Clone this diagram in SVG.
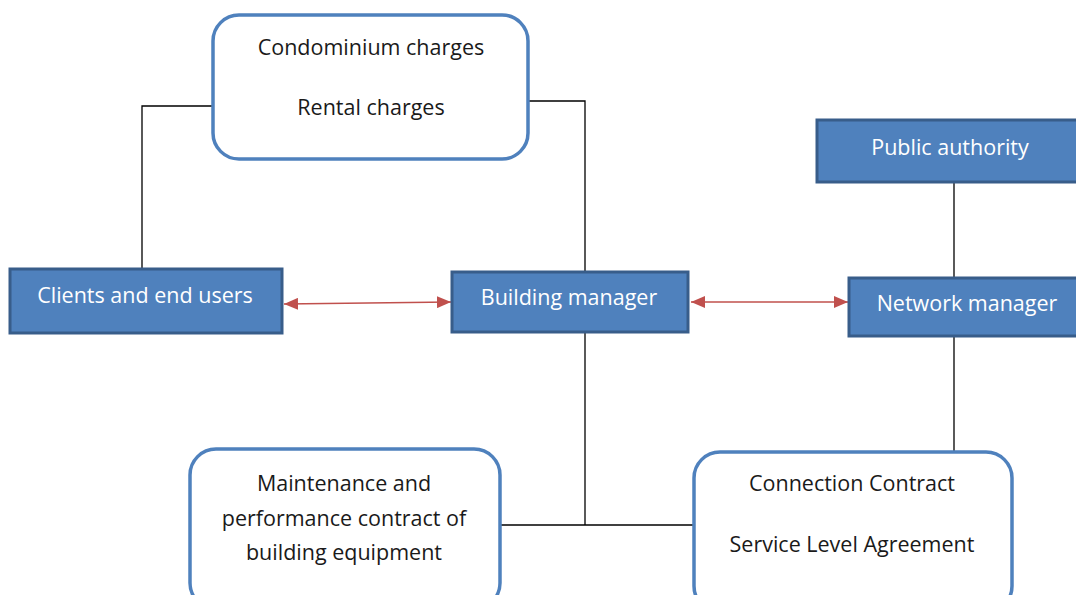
<svg xmlns="http://www.w3.org/2000/svg" width="1076" height="595" viewBox="0 0 1076 595">
  <defs>
    <style>
      .round { fill: #ffffff; stroke: #4F81BD; stroke-width: 3.5; }
      .solid { fill: #4F81BD; stroke: #385D8A; stroke-width: 3; }
      .dark { font-family: "Open Sans", "Liberation Sans", sans-serif; font-size: 21.5px; fill: #1a1a1a; text-anchor: middle; }
      .light { font-family: "Open Sans", "Liberation Sans", sans-serif; font-size: 21.5px; fill: #ffffff; text-anchor: middle; }
      .line { fill: none; stroke: #000000; stroke-width: 1.3; }
      .dbl { fill: none; stroke: #C0504D; stroke-width: 1.6; marker-start: url(#head); marker-end: url(#head); }
    </style>
    <marker id="head" viewBox="0 0 14 12" refX="14" refY="6" markerWidth="14" markerHeight="12" markerUnits="userSpaceOnUse" orient="auto-start-reverse">
      <path d="M0,0 L14,6 L0,12 Z" fill="#C0504D"/>
    </marker>
  </defs>

  <g id="connectors">
    <polyline class="line" points="213,106 142,106 142,269"/>
    <polyline class="line" points="528,101 585,101 585,272"/>
    <line class="line" x1="954" y1="182" x2="954" y2="278"/>
    <line class="line" x1="954" y1="336" x2="954" y2="452"/>
    <line class="line" x1="585" y1="332" x2="585" y2="525"/>
    <line class="line" x1="500" y1="525" x2="694" y2="525"/>
    <line class="dbl" x1="284" y1="304" x2="451" y2="302"/>
    <line class="dbl" x1="691" y1="302" x2="848" y2="302"/>
  </g>

  <g id="charges">
    <rect class="round" x="213" y="15" width="315" height="144" rx="26"/>
    <text class="dark" x="371" y="55">Condominium charges</text>
    <text class="dark" x="371" y="115">Rental charges</text>
  </g>

  <g id="clients">
    <rect class="solid" x="10" y="269" width="272" height="64"/>
    <text class="light" x="145" y="303">Clients and end users</text>
  </g>

  <g id="building-manager">
    <rect class="solid" x="452" y="272" width="236" height="60"/>
    <text class="light" x="569" y="305">Building manager</text>
  </g>

  <g id="public-authority">
    <rect class="solid" x="817" y="120" width="264" height="62"/>
    <text class="light" x="950" y="155">Public authority</text>
  </g>

  <g id="network-manager">
    <rect class="solid" x="849" y="278" width="232" height="58"/>
    <text class="light" x="967" y="311">Network manager</text>
  </g>

  <g id="maintenance">
    <rect class="round" x="190" y="449" width="310" height="160" rx="26"/>
    <text class="dark" x="344" y="491">Maintenance and</text>
    <text class="dark" x="344" y="526">performance contract of</text>
    <text class="dark" x="344" y="560">building equipment</text>
  </g>

  <g id="connection">
    <rect class="round" x="694" y="452" width="318" height="160" rx="26"/>
    <text class="dark" x="852" y="491">Connection Contract</text>
    <text class="dark" x="852" y="552">Service Level Agreement</text>
  </g>
</svg>
